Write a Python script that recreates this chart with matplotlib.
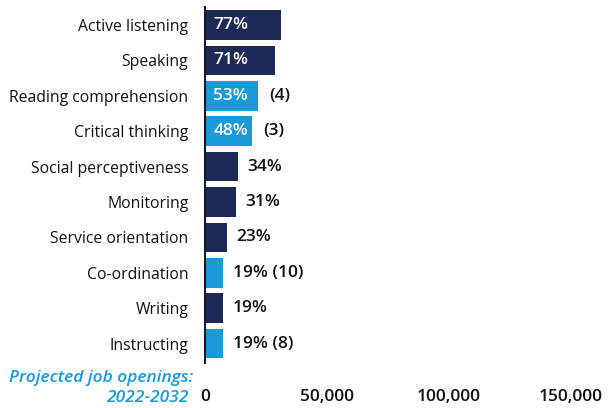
import matplotlib
matplotlib.use("Agg")
import matplotlib.pyplot as plt
from matplotlib.ticker import FixedLocator

plt.rcParams['font.family'] = ['Open Sans', 'DejaVu Sans']

skills = ["Active listening", "Speaking", "Reading comprehension", "Critical thinking",
          "Social perceptiveness", "Monitoring", "Service orientation", "Co-ordination",
          "Writing", "Instructing"]
openings = [31000, 28800, 21700, 19300, 13400, 12600, 9000, 7400, 7500, 7400]
importance_pct = [77, 71, 53, 48, 34, 31, 23, 19, 19, 19]
rank = [None, None, 4, 3, None, None, None, 10, None, 8]
xtick_values = [0, 50000, 100000, 150000]
xtick_labels = ["0", "50,000", "100,000", "150,000"]

NAVY = "#1b2a57"
BLUE = "#1a9bd7"
INSIDE_MIN = 40

W, H = 615, 408
fig = plt.figure(figsize=(W / 100, H / 100), dpi=100)
ax = fig.add_axes([205 / W, 1 - 363 / H, (610 - 205) / W, (363 - 7) / H])

ypos = list(range(len(skills)))
colors = [BLUE if r is not None else NAVY for r in rank]
ax.barh(ypos, openings, height=0.84, color=colors, zorder=2)

ax.set_xlim(0, 166000)
ax.set_ylim(len(skills) - 1 + 0.55, -0.51)

ax.set_yticks(ypos)
ax.set_yticklabels(skills, fontsize=11.3, color="#111111")
ax.xaxis.set_major_locator(FixedLocator(xtick_values))
ax.set_xticklabels(xtick_labels, fontsize=12.5, fontweight="semibold", color="#111111")
ax.tick_params(axis="y", length=0, pad=12)
ax.tick_params(axis="x", length=0, pad=19)

for s in ["top", "right", "bottom"]:
    ax.spines[s].set_visible(False)
ax.spines["left"].set_color("#15182a")
ax.spines["left"].set_linewidth(1.5)
ax.spines["left"].set_zorder(3)

LBL = 12.5
for y, v, p, r in zip(ypos, openings, importance_pct, rank):
    rtxt = f"({r})" if r is not None else ""
    if p >= INSIDE_MIN:
        ax.annotate(f"{p}%", (0, y), xytext=(6, 0), textcoords="offset points",
                    ha="left", va="center", fontsize=LBL, fontweight="semibold",
                    color="white", zorder=4)
        if rtxt:
            ax.annotate(rtxt, (v, y), xytext=(8, 0), textcoords="offset points",
                        ha="left", va="center", fontsize=LBL, fontweight="semibold",
                        color="#111111")
    else:
        label = f"{p}%" + (f" {rtxt}" if rtxt else "")
        ax.annotate(label, (v, y), xytext=(7, 0), textcoords="offset points",
                    ha="left", va="center", fontsize=LBL, fontweight="semibold",
                    color="#111111")

fig.text(193 / W, 1 - 378 / H, "Projected job openings:", ha="right", va="center",
         fontsize=12.5, fontstyle="italic", fontweight="semibold", color=BLUE)
fig.text(189 / W, 1 - 398 / H, "2022-2032", ha="right", va="center",
         fontsize=12.5, fontstyle="italic", fontweight="semibold", color=BLUE)

fig.savefig("out.png", dpi=100)
